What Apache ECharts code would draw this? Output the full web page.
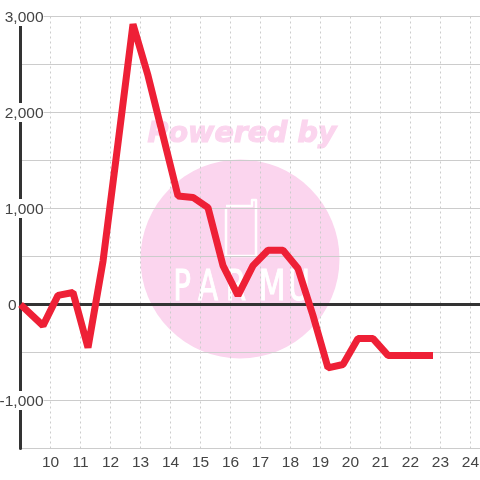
<!DOCTYPE html>
<html>
<head>
<meta charset="utf-8">
<style>
  html, body { margin: 0; padding: 0; background: #fff; }
  #chart { width: 480px; height: 480px; }
</style>
<script src="https://cdn.jsdelivr.net/npm/echarts@6/dist/echarts.min.js"></script>
</head>
<body>
<div id="chart"></div>
<script>
const hours = [9, 9.75, 10.25, 10.75, 11.25, 11.75, 12.25, 12.75, 13.25, 13.75, 14.25, 14.75, 15.25, 15.75, 16.25, 16.75, 17.25, 17.75, 18.25, 18.75, 19.25, 19.75, 20.25, 20.75, 21.25, 21.75, 22.25, 22.75];
const values = [0, -220, 95, 125, -450, 450, 1680, 2920, 2385, 1760, 1130, 1115, 1010, 405, 95, 405, 565, 565, 375, -115, -660, -625, -355, -355, -530, -530, -530, -530];
const zeroHours = [9, 24.317];
const zeroValues = [0, 0];
const logoLetters = ["P", "A", "R", "M", "U"];
const logoLetterX = [182, 208, 236, 272, 299];

const chart = echarts.init(document.getElementById("chart"));

const labelFont = { fontFamily: "Liberation Sans", fontSize: 15.5, color: "#444" };

// white letters of the watermark, one element each so the spacing can follow the logo
const letterGraphics = logoLetters.map((ch, i) => ({
  type: "text",
  z: -1,
  silent: true,
  x: logoLetterX[i],
  y: 289,
  scaleX: ch === "M" ? 0.75 : 0.7,
  style: {
    text: ch,
    fill: "#fff",
    stroke: "#fff",
    lineWidth: 1,
    font: "42px 'DejaVu Sans'",
    align: "center",
    verticalAlign: "middle",
  },
}));

chart.setOption({
  animation: false,
  backgroundColor: "#fff",
  grid: { left: 20.5, right: 0, top: 16.5, bottom: 31.5, outerBoundsMode: "none" },
  xAxis: {
    type: "value",
    min: 9,
    max: 24.317,
    interval: 1,
    axisLine: { show: false, onZero: false },
    axisTick: { show: false },
    axisLabel: {
      ...labelFont,
      margin: 6,
      showMinLabel: false,
      showMaxLabel: false,
    },
    splitLine: { lineStyle: { color: "#ccc", type: [2, 3], width: 1 } },
  },
  yAxis: {
    type: "value",
    min: -1500,
    max: 3000,
    interval: 500,
    axisLine: { show: true, onZero: false, lineStyle: { color: "#333", width: 3 } },
    axisTick: { show: false },
    axisLabel: {
      margin: -23,
      align: "right",
      formatter: (v) => {
        if (v === 0) return "{zero|0}";
        if (v % 1000 !== 0) return "";
        return "{num|" + v.toLocaleString("en-US") + "}";
      },
      rich: {
        num: { ...labelFont, backgroundColor: "#fff", padding: [3, 0, 0, 1] },
        zero: { ...labelFont, padding: [3, 27, 0, 0] },
      },
    },
    splitLine: { lineStyle: { color: "#ccc", width: 1 } },
  },
  graphic: [
    {
      type: "circle",
      z: -1,
      silent: true,
      shape: { cx: 240, cy: 259, r: 99.5 },
      style: { fill: "#fbd5ee" },
    },
    {
      type: "text",
      z: -1,
      silent: true,
      x: 242,
      y: 135,
      style: {
        text: "Powered by",
        fill: "#fbd5ee",
        stroke: "#fbd5ee",
        lineWidth: 1.2,
        font: "italic bold 28.5px 'DejaVu Sans'",
        align: "center",
        verticalAlign: "middle",
      },
    },
    {
      // phone outline in the logo
      type: "polyline",
      z: -1,
      silent: true,
      shape: { points: [[226, 208], [226, 256], [256, 256], [256, 200], [252, 200], [252, 206], [226, 206]] },
      style: { stroke: "#fff", fill: "none", lineWidth: 2.5, lineJoin: "round" },
    },
    ...letterGraphics,
  ],
  series: [
    {
      type: "line",
      data: zeroHours.map((h, i) => [h, zeroValues[i]]),
      symbol: "none",
      lineStyle: { color: "#333", width: 3 },
    },
    {
      type: "line",
      data: hours.map((h, i) => [h, values[i]]),
      symbol: "none",
      smooth: false,
      lineStyle: { color: "#ee2036", width: 7, join: "bevel" },
    },
  ],
});
</script>
</body>
</html>
